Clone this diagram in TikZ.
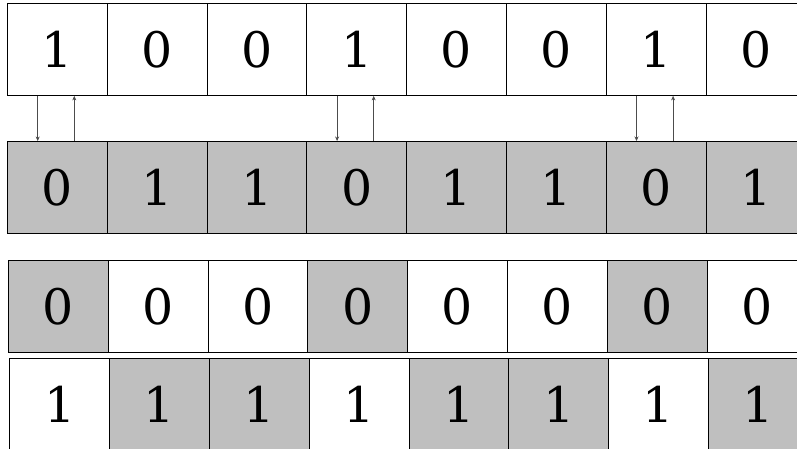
\documentclass[tikz,border=0pt]{standalone}
\usepackage{fontspec}
\setmainfont{DejaVu Serif}
\usetikzlibrary{arrows.meta}

\begin{document}
\begin{tikzpicture}[x=1pt, y=-1pt,
  cell/.style={draw, line width=0.9pt, minimum width=99.8pt, minimum height=92pt, inner sep=0pt, anchor=north west, font=\fontsize{49}{50}\selectfont},
  filled/.style={cell, fill=gray!50},
  link/.style={black!70, line width=0.6pt},
  >={Stealth[length=4.5pt, width=4pt]}]
\useasboundingbox (0,0) rectangle (797,449);
\clip (0,0) rectangle (797,449);
% top word and its complement
\foreach \b [count=\i] in {1,0,0,1,0,0,1,0}
  \node[cell] (a\i) at ({7+(\i-1)*99.8},3) {\b};
\foreach \b [count=\i] in {0,1,1,0,1,1,0,1}
  \node[filled] (b\i) at ({7+(\i-1)*99.8},141) {\b};
% all zeros, all ones
\foreach \s [count=\i] in {filled,cell,cell,filled,cell,cell,filled,cell}
  \node[\s] (c\i) at ({8+(\i-1)*99.8},260) {0};
\foreach \s [count=\i] in {cell,filled,filled,cell,filled,filled,cell,filled}
  \node[\s] (d\i) at ({9.3+(\i-1)*99.8},358) {1};
\foreach \i in {1,4,7} {
  \draw[->, link] ([xshift=30.7pt]a\i.south west) -- ([xshift=30.7pt]b\i.north west);
  \draw[<-, link] ([xshift=67.3pt]a\i.south west) -- ([xshift=67.3pt]b\i.north west);
}
\end{tikzpicture}
\end{document}
